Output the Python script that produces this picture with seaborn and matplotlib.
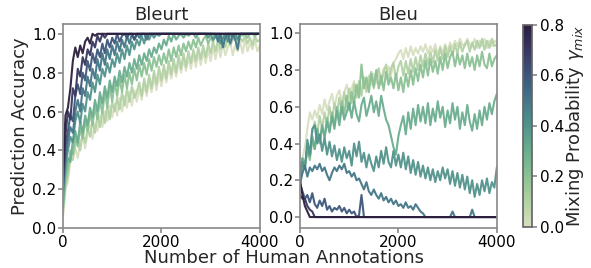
import numpy as np
import pandas as pd
import matplotlib
matplotlib.use("Agg")
import matplotlib.pyplot as plt
import seaborn as sns

# number of human annotations (x grid, shared by all runs)
n_annotations = np.arange(0, 4001, 50)
gammas = [0.0, 0.1, 0.2, 0.3, 0.4, 0.5, 0.6, 0.7, 0.8]

# Bleurt: prediction accuracy per mixing probability
bleurt_00 = [0.06, 0.20, 0.24, 0.35, 0.38, 0.41, 0.36, 0.44, 0.47, 0.41,
             0.49, 0.53, 0.46, 0.54, 0.50, 0.58, 0.52, 0.60, 0.55, 0.63,
             0.57, 0.64, 0.58, 0.67, 0.60, 0.68, 0.62, 0.70, 0.63, 0.71,
             0.65, 0.72, 0.66, 0.74, 0.68, 0.76, 0.70, 0.78, 0.71, 0.79,
             0.73, 0.81, 0.75, 0.83, 0.77, 0.84, 0.78, 0.86, 0.80, 0.87,
             0.81, 0.88, 0.82, 0.89, 0.83, 0.90, 0.84, 0.91, 0.85, 0.92,
             0.86, 0.93, 0.87, 0.94, 0.88, 0.95, 0.89, 0.93, 0.96, 0.89,
             0.94, 0.91, 0.96, 0.90, 0.97, 0.91, 0.95, 0.92, 0.97, 0.91,
             0.94]
bleurt_01 = [0.08, 0.22, 0.27, 0.37, 0.35, 0.43, 0.46, 0.40, 0.49, 0.44,
             0.51, 0.47, 0.55, 0.49, 0.58, 0.52, 0.60, 0.54, 0.63, 0.56,
             0.65, 0.60, 0.67, 0.61, 0.70, 0.63, 0.72, 0.65, 0.73, 0.67,
             0.70, 0.75, 0.68, 0.77, 0.70, 0.79, 0.72, 0.81, 0.74, 0.83,
             0.76, 0.84, 0.77, 0.86, 0.79, 0.87, 0.80, 0.89, 0.82, 0.90,
             0.83, 0.91, 0.85, 0.92, 0.86, 0.93, 0.87, 0.94, 0.88, 0.95,
             0.90, 0.96, 0.91, 0.97, 0.92, 0.96, 0.93, 0.98, 0.94, 0.97,
             0.99, 0.95, 0.98, 0.96, 0.99, 0.95, 0.98, 0.94, 0.99, 0.96,
             0.97]
bleurt_02 = [0.10, 0.25, 0.31, 0.40, 0.38, 0.47, 0.42, 0.51, 0.46, 0.55,
             0.50, 0.59, 0.53, 0.62, 0.56, 0.66, 0.59, 0.70, 0.62, 0.73,
             0.65, 0.75, 0.68, 0.77, 0.70, 0.79, 0.72, 0.80, 0.74, 0.82,
             0.76, 0.84, 0.78, 0.85, 0.79, 0.87, 0.81, 0.88, 0.83, 0.89,
             0.84, 0.90, 0.85, 0.92, 0.86, 0.93, 0.88, 0.94, 0.89, 0.95,
             0.91, 0.96, 0.92, 0.97, 0.93, 0.98, 0.94, 0.97, 0.99, 0.95,
             0.98, 0.96, 1.0, 0.97, 0.99, 0.96, 1.0, 0.98, 1.0, 0.97,
             1.0, 0.98, 1.0, 0.99, 1.0, 0.98, 1.0, 1.0, 0.99, 1.0,
             1.0]
bleurt_03 = [0.12, 0.28, 0.36, 0.34, 0.45, 0.50, 0.44, 0.55, 0.49, 0.58,
             0.53, 0.62, 0.57, 0.66, 0.60, 0.70, 0.64, 0.73, 0.67, 0.76,
             0.70, 0.78, 0.73, 0.81, 0.75, 0.83, 0.78, 0.85, 0.80, 0.87,
             0.82, 0.89, 0.84, 0.90, 0.86, 0.92, 0.88, 0.93, 0.90, 0.95,
             0.92, 0.97, 0.94, 0.99, 0.96, 1.0, 0.97, 0.99, 1.0, 0.98,
             1.0, 0.99, 1.0, 1.0, 0.98, 1.0, 1.0, 1.0, 1.0, 1.0,
             1.0, 1.0, 0.98, 1.0, 1.0, 0.97, 1.0, 1.0, 1.0, 1.0,
             1.0, 1.0, 1.0, 1.0, 1.0, 1.0, 1.0, 1.0, 1.0, 1.0,
             1.0]
bleurt_04 = [0.18, 0.33, 0.40, 0.47, 0.44, 0.55, 0.60, 0.54, 0.64, 0.60,
             0.70, 0.66, 0.75, 0.70, 0.79, 0.74, 0.82, 0.78, 0.85, 0.80,
             0.87, 0.83, 0.90, 0.85, 0.92, 0.87, 0.94, 0.89, 0.96, 0.92,
             0.97, 0.94, 0.99, 0.95, 1.0, 0.97, 1.0, 0.98, 1.0, 0.99,
             1.0, 1.0, 1.0, 1.0, 1.0, 1.0, 1.0, 1.0, 1.0, 1.0,
             1.0, 1.0, 1.0, 1.0, 1.0, 1.0, 1.0, 1.0, 1.0, 0.98,
             1.0, 0.97, 0.99, 1.0, 0.95, 0.98, 1.0, 0.96, 1.0, 0.99,
             1.0, 0.97, 1.0, 1.0, 1.0, 1.0, 1.0, 1.0, 1.0, 1.0,
             1.0]
bleurt_05 = [0.20, 0.36, 0.45, 0.52, 0.49, 0.60, 0.66, 0.60, 0.72, 0.68,
             0.78, 0.73, 0.82, 0.77, 0.87, 0.81, 0.90, 0.84, 0.92, 0.87,
             0.94, 0.89, 0.96, 0.91, 0.97, 0.93, 0.99, 0.95, 1.0, 0.97,
             1.0, 0.98, 1.0, 1.0, 0.97, 1.0, 1.0, 1.0, 1.0, 1.0,
             1.0, 1.0, 1.0, 1.0, 1.0, 1.0, 1.0, 1.0, 1.0, 1.0,
             1.0, 1.0, 1.0, 1.0, 1.0, 1.0, 1.0, 1.0, 1.0, 1.0,
             1.0, 1.0, 1.0, 0.96, 1.0, 0.93, 0.98, 1.0, 0.95, 1.0,
             0.97, 0.92, 1.0, 1.0, 1.0, 1.0, 1.0, 1.0, 1.0, 1.0,
             1.0]
bleurt_06 = [0.22, 0.42, 0.50, 0.58, 0.55, 0.68, 0.74, 0.69, 0.80, 0.76,
             0.86, 0.81, 0.90, 0.85, 0.92, 0.88, 0.95, 0.90, 0.97, 0.93,
             0.98, 0.95, 1.0, 0.96, 0.99, 1.0, 0.98, 1.0, 1.0, 0.97,
             1.0, 1.0, 1.0, 1.0, 1.0, 1.0, 1.0, 1.0, 1.0, 1.0,
             1.0, 1.0, 1.0, 1.0, 1.0, 1.0, 1.0, 1.0, 1.0, 1.0,
             1.0, 1.0, 1.0, 1.0, 1.0, 1.0, 1.0, 1.0, 1.0, 1.0,
             1.0, 1.0, 1.0, 1.0, 1.0, 1.0, 1.0, 1.0, 1.0, 1.0,
             1.0, 1.0, 1.0, 1.0, 1.0, 1.0, 1.0, 1.0, 1.0, 1.0,
             1.0]
bleurt_07 = [0.25, 0.48, 0.60, 0.56, 0.72, 0.68, 0.82, 0.78, 0.88, 0.84,
             0.92, 0.89, 0.96, 0.93, 0.99, 0.96, 1.0, 0.98, 1.0, 1.0,
             1.0, 1.0, 1.0, 1.0, 1.0, 1.0, 1.0, 1.0, 1.0, 1.0,
             1.0, 1.0, 1.0, 1.0, 1.0, 1.0, 1.0, 1.0, 1.0, 1.0,
             1.0, 1.0, 1.0, 1.0, 1.0, 1.0, 1.0, 1.0, 1.0, 1.0,
             1.0, 1.0, 1.0, 1.0, 1.0, 1.0, 1.0, 1.0, 1.0, 1.0,
             1.0, 1.0, 1.0, 1.0, 1.0, 1.0, 1.0, 1.0, 1.0, 1.0,
             1.0, 1.0, 1.0, 1.0, 1.0, 1.0, 1.0, 1.0, 1.0, 1.0,
             1.0]
bleurt_08 = [0.30, 0.58, 0.62, 0.72, 0.86, 0.93, 0.88, 0.94, 0.90, 0.96,
             0.98, 0.95, 1.0, 0.99, 1.0, 1.0, 1.0, 1.0, 1.0, 1.0,
             1.0, 1.0, 1.0, 1.0, 1.0, 1.0, 1.0, 1.0, 1.0, 1.0,
             1.0, 1.0, 1.0, 1.0, 1.0, 1.0, 1.0, 1.0, 1.0, 1.0,
             1.0, 1.0, 1.0, 1.0, 1.0, 1.0, 1.0, 1.0, 1.0, 1.0,
             1.0, 1.0, 1.0, 1.0, 1.0, 1.0, 1.0, 1.0, 1.0, 1.0,
             1.0, 1.0, 1.0, 1.0, 1.0, 1.0, 1.0, 1.0, 1.0, 1.0,
             1.0, 1.0, 1.0, 1.0, 1.0, 1.0, 1.0, 1.0, 1.0, 1.0,
             1.0]

# Bleu: prediction accuracy per mixing probability
bleu_00 = [0.18, 0.32, 0.38, 0.48, 0.57, 0.53, 0.58, 0.54, 0.61, 0.56,
           0.64, 0.58, 0.63, 0.67, 0.60, 0.66, 0.69, 0.62, 0.68, 0.72,
           0.65, 0.70, 0.74, 0.66, 0.73, 0.69, 0.76, 0.70, 0.77, 0.72,
           0.78, 0.73, 0.80, 0.74, 0.81, 0.76, 0.82, 0.77, 0.84, 0.86,
           0.89, 0.91, 0.86, 0.92, 0.87, 0.93, 0.88, 0.92, 0.89, 0.93,
           0.90, 0.94, 0.89, 0.93, 0.90, 0.94, 0.88, 0.93, 0.89, 0.94,
           0.90, 0.95, 0.92, 0.96, 0.93, 0.97, 0.94, 0.93, 0.97, 0.94,
           0.93, 0.97, 0.92, 0.96, 0.93, 0.97, 0.92, 0.96, 0.93, 0.96,
           0.95]
bleu_01 = [0.20, 0.30, 0.27, 0.38, 0.33, 0.46, 0.52, 0.45, 0.55, 0.48,
           0.57, 0.50, 0.60, 0.52, 0.62, 0.56, 0.65, 0.57, 0.68, 0.60,
           0.70, 0.62, 0.72, 0.65, 0.74, 0.66, 0.76, 0.68, 0.75, 0.79,
           0.70, 0.77, 0.81, 0.72, 0.79, 0.83, 0.74, 0.81, 0.84, 0.75,
           0.82, 0.85, 0.77, 0.85, 0.78, 0.86, 0.79, 0.87, 0.80, 0.88,
           0.82, 0.89, 0.83, 0.90, 0.84, 0.91, 0.85, 0.92, 0.86, 0.93,
           0.87, 0.93, 0.88, 0.94, 0.89, 0.95, 0.90, 0.94, 0.96, 0.90,
           0.95, 0.91, 0.96, 0.92, 0.97, 0.91, 0.96, 0.92, 0.97, 0.93,
           0.94]
bleu_02 = [0.22, 0.32, 0.28, 0.36, 0.31, 0.42, 0.37, 0.46, 0.40, 0.49,
           0.44, 0.54, 0.47, 0.57, 0.50, 0.60, 0.53, 0.63, 0.56, 0.66,
           0.58, 0.68, 0.62, 0.72, 0.65, 0.83, 0.70, 0.76, 0.68, 0.78,
           0.71, 0.80, 0.70, 0.77, 0.69, 0.79, 0.72, 0.76, 0.70, 0.78,
           0.69, 0.76, 0.68, 0.78, 0.71, 0.80, 0.72, 0.81, 0.74, 0.83,
           0.76, 0.85, 0.77, 0.86, 0.79, 0.85, 0.78, 0.87, 0.80, 0.89,
           0.81, 0.87, 0.90, 0.82, 0.89, 0.83, 0.88, 0.81, 0.89, 0.82,
           0.87, 0.80, 0.88, 0.82, 0.90, 0.83, 0.81, 0.89, 0.82, 0.86,
           0.88]
bleu_03 = [0.25, 0.32, 0.28, 0.38, 0.33, 0.44, 0.37, 0.48, 0.41, 0.50,
           0.43, 0.52, 0.46, 0.55, 0.48, 0.58, 0.50, 0.60, 0.53, 0.57,
           0.62, 0.54, 0.63, 0.56, 0.52, 0.61, 0.65, 0.55, 0.60, 0.66,
           0.57, 0.63, 0.55, 0.66, 0.59, 0.53, 0.50, 0.44, 0.38, 0.34,
           0.44, 0.50, 0.55, 0.45, 0.57, 0.48, 0.59, 0.50, 0.61, 0.52,
           0.60, 0.51, 0.62, 0.50, 0.59, 0.52, 0.63, 0.54, 0.60, 0.49,
           0.58, 0.51, 0.62, 0.53, 0.60, 0.48, 0.57, 0.50, 0.61, 0.52,
           0.47, 0.56, 0.48, 0.58, 0.50, 0.60, 0.53, 0.62, 0.56, 0.63,
           0.67]
bleu_04 = [0.20, 0.30, 0.26, 0.42, 0.34, 0.48, 0.50, 0.40, 0.45, 0.36,
           0.43, 0.34, 0.41, 0.33, 0.39, 0.31, 0.37, 0.30, 0.38, 0.32,
           0.36, 0.28, 0.40, 0.33, 0.41, 0.30, 0.35, 0.27, 0.34, 0.29,
           0.25, 0.33, 0.27, 0.36, 0.29, 0.38, 0.30, 0.27, 0.36, 0.28,
           0.34, 0.27, 0.35, 0.26, 0.33, 0.24, 0.31, 0.23, 0.30, 0.22,
           0.28, 0.21, 0.27, 0.20, 0.26, 0.19, 0.25, 0.20, 0.27, 0.21,
           0.26, 0.18, 0.25, 0.17, 0.24, 0.16, 0.23, 0.15, 0.22, 0.13,
           0.20, 0.11, 0.18, 0.12, 0.20, 0.14, 0.21, 0.13, 0.19, 0.16,
           0.27]
bleu_05 = [0.18, 0.24, 0.28, 0.22, 0.27, 0.25, 0.28, 0.26, 0.29, 0.25,
           0.27, 0.23, 0.20, 0.24, 0.27, 0.25, 0.28, 0.26, 0.29, 0.24,
           0.25, 0.22, 0.24, 0.20, 0.21, 0.18, 0.15, 0.19, 0.14, 0.12,
           0.15, 0.12, 0.10, 0.13, 0.09, 0.11, 0.08, 0.10, 0.07, 0.09,
           0.06, 0.07, 0.05, 0.08, 0.05, 0.06, 0.04, 0.07, 0.05, 0.03,
           0.02, 0.0, 0.0, 0.0, 0.0, 0.0, 0.0, 0.0, 0.0, 0.0,
           0.0, 0.0, 0.03, 0.0, 0.0, 0.0, 0.0, 0.0, 0.0, 0.0,
           0.04, 0.0, 0.0, 0.0, 0.0, 0.0, 0.0, 0.0, 0.0, 0.0,
           0.0]
bleu_06 = [0.18, 0.14, 0.10, 0.12, 0.08, 0.13, 0.07, 0.05, 0.09, 0.06,
           0.10, 0.04, 0.06, 0.03, 0.05, 0.04, 0.06, 0.03, 0.05, 0.02,
           0.04, 0.02, 0.03, 0.0, 0.01, 0.12, 0.0, 0.0, 0.0, 0.0,
           0.0, 0.0, 0.0, 0.0, 0.0, 0.0, 0.0, 0.0, 0.0, 0.0,
           0.0, 0.0, 0.0, 0.0, 0.0, 0.0, 0.0, 0.0, 0.0, 0.0,
           0.0, 0.0, 0.0, 0.0, 0.0, 0.0, 0.0, 0.0, 0.0, 0.0,
           0.0, 0.0, 0.0, 0.0, 0.0, 0.0, 0.0, 0.0, 0.0, 0.0,
           0.0, 0.0, 0.0, 0.0, 0.0, 0.0, 0.0, 0.0, 0.0, 0.0,
           0.0]
bleu_07 = [0.12, 0.10, 0.10, 0.06, 0.04, 0.03, 0.0, 0.0, 0.0, 0.0,
           0.0, 0.0, 0.0, 0.0, 0.0, 0.0, 0.0, 0.0, 0.0, 0.0,
           0.0, 0.0, 0.0, 0.0, 0.0, 0.0, 0.0, 0.0, 0.0, 0.0,
           0.0, 0.0, 0.0, 0.0, 0.0, 0.0, 0.0, 0.0, 0.0, 0.0,
           0.0, 0.0, 0.0, 0.0, 0.0, 0.0, 0.0, 0.0, 0.0, 0.0,
           0.0, 0.0, 0.0, 0.0, 0.0, 0.0, 0.0, 0.0, 0.0, 0.0,
           0.0, 0.0, 0.0, 0.0, 0.0, 0.0, 0.0, 0.0, 0.0, 0.0,
           0.0, 0.0, 0.0, 0.0, 0.0, 0.0, 0.0, 0.0, 0.0, 0.0,
           0.0]
bleu_08 = [0.20, 0.12, 0.06, 0.03, 0.0, 0.0, 0.0, 0.0, 0.0, 0.0,
           0.0, 0.0, 0.0, 0.0, 0.0, 0.0, 0.0, 0.0, 0.0, 0.0,
           0.0, 0.0, 0.0, 0.0, 0.0, 0.0, 0.0, 0.0, 0.0, 0.0,
           0.0, 0.0, 0.0, 0.0, 0.0, 0.0, 0.0, 0.0, 0.0, 0.0,
           0.0, 0.0, 0.0, 0.0, 0.0, 0.0, 0.0, 0.0, 0.0, 0.0,
           0.0, 0.0, 0.0, 0.0, 0.0, 0.0, 0.0, 0.0, 0.0, 0.0,
           0.0, 0.0, 0.0, 0.0, 0.0, 0.0, 0.0, 0.0, 0.0, 0.0,
           0.0, 0.0, 0.0, 0.0, 0.0, 0.0, 0.0, 0.0, 0.0, 0.0,
           0.0]

bleurt_runs = [bleurt_00, bleurt_01, bleurt_02, bleurt_03, bleurt_04,
               bleurt_05, bleurt_06, bleurt_07, bleurt_08]
bleu_runs = [bleu_00, bleu_01, bleu_02, bleu_03, bleu_04,
             bleu_05, bleu_06, bleu_07, bleu_08]


def to_long(runs):
    frames = []
    for g, acc in zip(gammas, runs):
        frames.append(pd.DataFrame({"n": n_annotations, "acc": acc, "gamma": g}))
    return pd.concat(frames, ignore_index=True)


sns.set_theme(style="ticks", rc={"axes.edgecolor": "0.55", "xtick.color": "0.55",
                                 "ytick.color": "0.55", "xtick.labelcolor": "black",
                                 "ytick.labelcolor": "black"})
plt.rcParams["font.family"] = ["DejaVu Sans"]

cmap = sns.cubehelix_palette(start=.5, rot=-.75, as_cmap=True)
norm = plt.Normalize(0, 0.8)

fig = plt.figure(figsize=(5.91, 2.68), dpi=100)
ax1 = fig.add_axes([0.1066, 0.149, 0.333, 0.761])
ax2 = fig.add_axes([0.5076, 0.149, 0.333, 0.761])
cax = fig.add_axes([0.885, 0.153, 0.0152, 0.754])

panels = [(ax1, bleurt_runs, "Bleurt", (0, 1.05)),
          (ax2, bleu_runs, "Bleu", (-0.06, 1.05))]
for ax, runs, title, ylim in panels:
    sns.lineplot(data=to_long(runs), x="n", y="acc", hue="gamma", palette=cmap,
                 hue_norm=norm, legend=False, linewidth=1.5, alpha=0.95, ax=ax)
    ax.set_xlim(0, 4000)
    ax.set_ylim(*ylim)
    ax.set_xticks([0, 2000, 4000])
    ax.set_yticks([0.0, 0.2, 0.4, 0.6, 0.8, 1.0])
    ax.set_title(title, fontsize=13, pad=3)
    ax.set_xlabel("")
    ax.set_ylabel("")
    ax.tick_params(labelsize=11, length=3.5, pad=1.5)
    for s in ax.spines.values():
        s.set_visible(True)

ax1.set_ylabel("Prediction Accuracy", fontsize=13, labelpad=2)
fig.text(0.48, 0.002, "Number of Human Annotations", ha="center", va="bottom", fontsize=13)

sm = plt.cm.ScalarMappable(cmap=cmap, norm=norm)
cb = fig.colorbar(sm, cax=cax)
cb.set_ticks([0.0, 0.2, 0.4, 0.6, 0.8])
cb.ax.tick_params(labelsize=11, length=3.5, pad=2)
cb.outline.set_edgecolor("0.4")
cb.set_label(r"Mixing Probability $\gamma_{mix}$", fontsize=13, labelpad=0)

plt.savefig("out.png", dpi=100)
